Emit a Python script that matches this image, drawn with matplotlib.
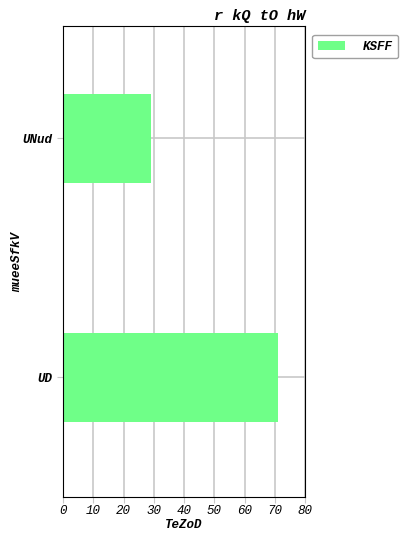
import matplotlib
matplotlib.use("Agg")
import matplotlib.pyplot as plt

categories = ["UD", "UNud"]
values = [71, 29]
series_name = "KSFF"
title = "r kQ tO hW"
xlabel = "TeZoD"
ylabel = "mueeSfkV"
xticks = [0, 10, 20, 30, 40, 50, 60, 70, 80]

plt.rcParams["font.family"] = ["Liberation Mono", "DejaVu Sans Mono"]
plt.rcParams["font.size"] = 9

fig = plt.figure(figsize=(4.2, 5.4), dpi=100)
ax = fig.add_axes([63 / 420, 1 - 497 / 540, 242 / 420, 471 / 540])

ax.barh(range(len(categories)), values, height=0.375, color="#6fff88",
        label=series_name, zorder=2)

ax.set_xlim(0, 80)
ax.set_ylim(-0.5, 1.47)
ax.set_xticks(xticks)
ax.set_xticklabels([str(t) for t in xticks], fontstyle="italic")
ax.set_yticks(range(len(categories)))
ax.set_yticklabels(categories, fontstyle="italic", fontweight="bold")
ax.grid(True, color="#c8c8c8", linewidth=1.2, zorder=0)
ax.set_axisbelow(True)
ax.tick_params(colors="#c8c8c8", labelcolor="black", length=4)
ax.tick_params(axis="x", pad=2)

ax.set_xlabel(xlabel, fontstyle="italic", fontweight="bold", labelpad=1)
ax.set_ylabel(ylabel, fontstyle="italic", fontweight="bold")
ax.yaxis.set_label_coords(-0.165, 0.5)
ax.set_title(title, loc="right", fontstyle="italic", fontweight="bold",
             fontsize=11, pad=4)

leg = ax.legend(loc="upper left", bbox_to_anchor=(1.029, 0.981), borderaxespad=0,
                prop={"style": "italic", "weight": "bold"},
                handlelength=2.2, handletextpad=1.4, borderpad=0.45)
leg.get_frame().set_edgecolor("#888888")

fig.savefig("out.png", dpi=100)
